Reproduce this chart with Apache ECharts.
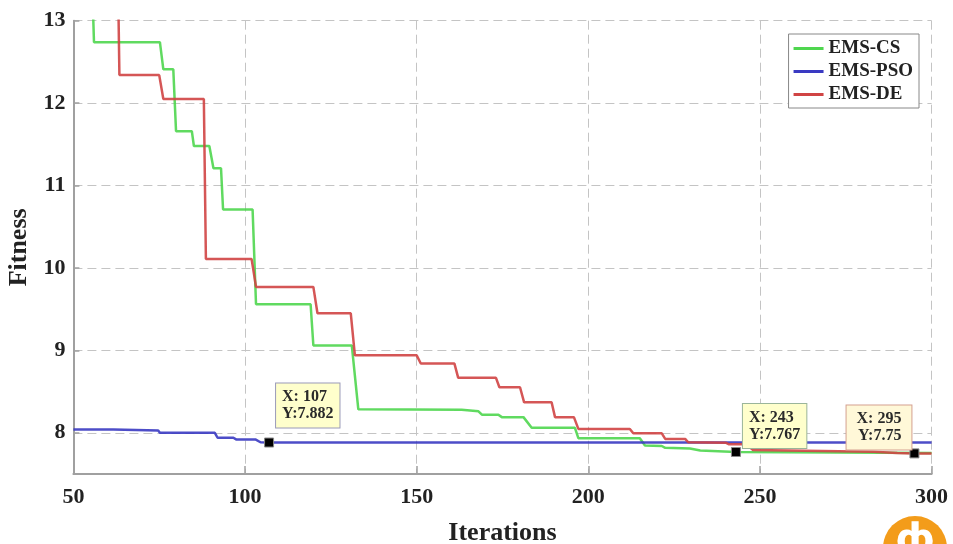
<!DOCTYPE html>
<html>
<head>
<meta charset="utf-8">
<script src="https://cdn.jsdelivr.net/npm/echarts@6/dist/echarts.min.js"></script>
<style>
  html, body { margin: 0; padding: 0; background: #fff; }
  #chart { width: 953px; height: 544px; }
</style>
</head>
<body>
<div id="chart"></div>
<script>
// values
const seriesNames = ['EMS-CS', 'EMS-PSO', 'EMS-DE']

const csIter = [50, 55.5, 56, 75.2, 76.2, 79.1, 79.9, 84.5, 85.1, 89.6, 90.8, 93.0, 93.6, 102.2, 103.2, 119.1, 119.9, 131.1, 133, 163.1, 168, 169, 173.8, 174.8, 181.1, 183.5, 196.1, 197.1, 215, 216.5, 221.4, 222.4, 229.6, 232.6, 243, 300]
const csFit = [13.4, 13.4, 12.74, 12.74, 12.41, 12.41, 11.66, 11.66, 11.48, 11.48, 11.21, 11.21, 10.71, 10.71, 9.56, 9.56, 9.06, 9.06, 8.285, 8.28, 8.26, 8.22, 8.22, 8.19, 8.19, 8.06, 8.06, 7.934, 7.934, 7.845, 7.84, 7.817, 7.81, 7.784, 7.767, 7.755]

const psoIter = [50, 61.6, 62, 74.7, 75.2, 91.2, 92, 96.6, 97.4, 103, 104.5, 107, 300]
const psoFit = [8.039, 8.039, 8.027, 8.027, 8.0, 8.0, 7.94, 7.94, 7.92, 7.92, 7.885, 7.882, 7.882]

const deIter = [50, 63, 63.4, 75, 76.2, 88, 88.6, 101.9, 103.2, 119.9, 121.1, 130.8, 132, 150, 151.2, 161, 162.1, 173.1, 174.1, 180.1, 181.3, 189.3, 190.3, 195.8, 197.1, 212.1, 213.1, 221.4, 222.4, 228.2, 229.1, 240, 241, 246, 248, 283, 290, 295, 300]
const deFit = [13.5, 13.5, 12.34, 12.34, 12.05, 12.05, 10.11, 10.11, 9.77, 9.77, 9.45, 9.45, 8.94, 8.94, 8.84, 8.84, 8.667, 8.667, 8.553, 8.553, 8.37, 8.37, 8.19, 8.19, 8.047, 8.047, 7.994, 7.994, 7.926, 7.926, 7.885, 7.88, 7.86, 7.86, 7.79, 7.77, 7.755, 7.75, 7.75]

// data tips: blue at 107, green at 243, red at 295
const tipIter = [107, 243, 295]
const tipFit = [7.882, 7.767, 7.75]

const SERIF = '"Liberation Serif", "Times New Roman", serif'
const colors = ['#4fd64f', '#3a3ac2', '#d04444']

function zip(xs, ys) {
  return xs.map((x, i) => [x, ys[i]])
}

function tipPoint(iter, fit, labelPos, align, border, bg, pad) {
  return {
    coord: [iter, fit],
    symbol: 'rect',
    symbolSize: 9,
    itemStyle: { color: '#000', borderColor: '#888', borderWidth: 1 },
    label: {
      show: true,
      formatter: `X: ${iter}\nY:${fit}`,
      position: labelPos,
      align: align,
      verticalAlign: 'bottom',
      fontFamily: SERIF,
      fontWeight: 'bold',
      fontSize: 16,
      lineHeight: 17,
      color: '#2a2a2a',
      backgroundColor: bg,
      borderColor: border,
      borderWidth: 1,
      padding: pad,
    },
  }
}

function lineSeries(name, data, color, tip) {
  return {
    name: name,
    type: 'line',
    data: data,
    symbol: 'none',
    color: color,
    lineStyle: { width: 2.5, color: color, opacity: 0.9 },
    clip: true,
    markPoint: {
      silent: true,
      animation: false,
      data: [tip],
    },
  }
}

function getChartOption() {
  const axisName = { fontFamily: SERIF, fontWeight: 'bold', fontSize: 26, color: '#222' }
  const axisLbl = { fontFamily: SERIF, fontWeight: 'bold', fontSize: 22, color: '#222' }
  const grid = { lineStyle: { color: '#c4c4c4', type: [9, 5], width: 1 } }

  return {
    animation: false,
    backgroundColor: '#fff',
    grid: { left: 73.4, right: 21.4, top: 20.7, bottom: 70, outerBoundsMode: 'none', containLabel: false },
    legend: {
      orient: 'vertical',
      right: 34,
      top: 34,
      data: seriesNames,
      icon: 'rect',
      itemWidth: 30,
      itemHeight: 3,
      itemGap: 4,
      padding: [5, 6, 4, 5],
      backgroundColor: '#fff',
      borderColor: '#888',
      borderWidth: 1,
      borderRadius: 0,
      textStyle: { fontFamily: SERIF, fontWeight: 'bold', fontSize: 19, lineHeight: 19, color: '#222' },
    },
    xAxis: {
      type: 'value',
      min: 50,
      max: 300,
      interval: 50,
      name: 'Iterations',
      nameLocation: 'middle',
      nameGap: 46,
      nameMoveOverlap: false,
      nameTextStyle: axisName,
      axisLine: { lineStyle: { color: '#a0a0a0', width: 2 } },
      axisTick: { inside: true, length: 8, lineStyle: { color: '#a0a0a0', width: 1.5 } },
      axisLabel: Object.assign({ margin: 12 }, axisLbl),
      splitLine: grid,
    },
    yAxis: {
      type: 'value',
      min: 7.5,
      max: 13,
      splitNumber: 5,
      name: 'Fitness',
      nameLocation: 'middle',
      nameGap: 41,
      nameMoveOverlap: false,
      nameTextStyle: axisName,
      axisLine: { show: true, lineStyle: { color: '#a0a0a0', width: 2 } },
      axisTick: { show: true, inside: true, length: 6, lineStyle: { color: '#a0a0a0', width: 1.5 } },
      axisLabel: Object.assign({
        margin: 8,
        formatter: (v) => (Number.isInteger(v) ? String(v) : ''),
      }, axisLbl),
      splitLine: grid,
    },
    series: [
      lineSeries(seriesNames[0], zip(csIter, csFit), colors[0],
        tipPoint(tipIter[1], tipFit[1], [12, 1], 'left', '#9ab59a', '#ffffcc', [5, 6])),
      lineSeries(seriesNames[1], zip(psoIter, psoFit), colors[1],
        tipPoint(tipIter[0], tipFit[0], [12, -10], 'left', '#9a9ab8', '#ffffcc', [5, 6])),
      lineSeries(seriesNames[2], zip(deIter, deFit), colors[2],
        tipPoint(tipIter[2], tipFit[2], [2, 1], 'right', '#d4a090', '#fff8d8', [5, 10])),
    ],
    graphic: [
      {
        type: 'group',
        silent: true,
        children: [
          { type: 'circle', shape: { cx: 915, cy: 548, r: 32 }, style: { fill: '#f39c1a' } },
          {
            type: 'text',
            x: 915,
            y: 542,
            style: { text: 'ф', fill: '#fff', font: 'bold 40px "DejaVu Sans"', align: 'center', verticalAlign: 'middle' },
          },
        ],
      },
    ],
  }
}

function initChart() {
  const el = document.getElementById('chart')
  const chart = echarts.init(el, null, { renderer: 'canvas' })
  chart.setOption(getChartOption(), { notMerge: true })
}

initChart()
</script>
</body>
</html>
